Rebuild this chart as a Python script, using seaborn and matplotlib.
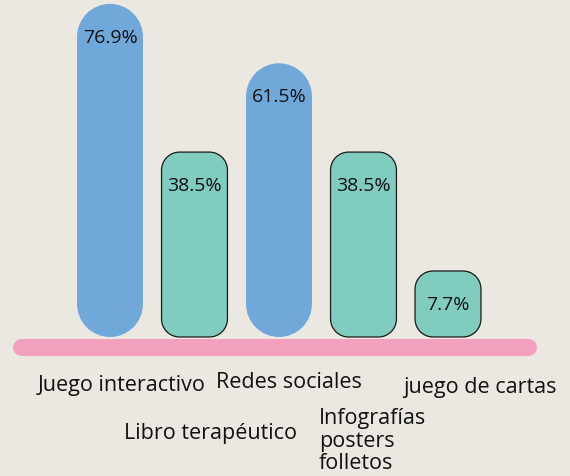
import matplotlib
matplotlib.use("Agg")
import matplotlib.pyplot as plt
import matplotlib.colors as mcolors
import seaborn as sns
import pandas as pd
from matplotlib.path import Path
from matplotlib.patches import PathPatch

# ---- data ----
categories = ["Juego interactivo", "Libro terapéutico", "Redes sociales",
              "Infografías\nposters\nfolletos", "juego de cartas"]
values = [76.9, 38.5, 61.5, 38.5, 7.7]
groups = ["azul", "verde", "azul", "verde", "verde"]

# ---- style / layout ----
BG = "#ebe8e1"
BLUE = "#70a8da"
TEAL = "#80ccbe"
PINK = "#f2a0be"
W, H = 570, 476
BASE = -9.4            # bars start slightly below zero (rounded foot)
PX_X = 84.5            # pixels per category step
PX_Y = 3.86            # pixels per percentage point
RADIUS_TEAL = 18       # px
LABEL_POS = [(122, 385, "center"), (211, 433, "center"), (289, 382, "center"),
             (319, 441, "left"), (480, 387, "center")]

sns.set_theme(style="white")
plt.rcParams["font.family"] = ["Open Sans", "DejaVu Sans"]

fig = plt.figure(figsize=(W / 100, H / 100), dpi=100, facecolor=BG)
ax = fig.add_axes([0, 0, 1, 1])
ax.set_facecolor(BG)

df = pd.DataFrame({"cat": categories, "val": values, "grp": groups})
sns.barplot(data=df, x="cat", y="val", hue="grp",
            palette={"azul": BLUE, "verde": TEAL}, dodge=False, saturation=1,
            width=0.78, legend=False, ax=ax)

ax.set_xlim(-110 / PX_X, (W - 110) / PX_X)
ax.set_ylim(-(H - 300.7) / PX_Y, 300.7 / PX_Y)
ax.axis("off")


def rounded_path(x0, y0, w, h, rx, ry):
    verts, codes = [], []
    corners = [(x0 + w - rx, y0 + ry, -90, 0), (x0 + w - rx, y0 + h - ry, 0, 90),
               (x0 + rx, y0 + h - ry, 90, 180), (x0 + rx, y0 + ry, 180, 270)]
    for i, (cx, cy, a0, a1) in enumerate(corners):
        arc = Path.arc(a0, a1)
        v = arc.vertices.copy()
        v[:, 0] = cx + v[:, 0] * rx
        v[:, 1] = cy + v[:, 1] * ry
        c = list(arc.codes)
        if i > 0:
            c[0] = Path.LINETO
        verts.extend(v.tolist())
        codes.extend(c)
    verts.append(verts[0])
    codes.append(Path.CLOSEPOLY)
    return Path(verts, codes)


# pink baseline
ax.plot([20.5 / W, 528 / W], [1 - 347 / H, 1 - 347 / H], transform=ax.transAxes,
        color=PINK, lw=12.2, solid_capstyle="round", zorder=1)

bars = [p for p in ax.patches if p.get_height() > 0]
for p in bars:
    x, w, h = p.get_x(), p.get_width(), p.get_height()
    fc = p.get_facecolor()
    p.set_visible(False)
    is_blue = mcolors.to_hex(fc) == BLUE
    if is_blue:
        rx = w / 2
    else:
        rx = RADIUS_TEAL / PX_X
    ry = rx * PX_X / PX_Y
    patch = PathPatch(rounded_path(x, BASE, w, h - BASE, rx, ry), facecolor=fc,
                      edgecolor="none" if is_blue else "#1a1a1a",
                      lw=0 if is_blue else 0.9, zorder=2)
    ax.add_patch(patch)

for cont in ax.containers:
    texts = ax.bar_label(cont, fmt="{:.1f}%", padding=-24.5, fontsize=14,
                         color="#111111", zorder=4)
    for t in texts:
        t.set_va("center")

for (px, py, ha), lab in zip(LABEL_POS, categories):
    fig.text(px / W, 1 - py / H, lab, ha=ha, va="center", fontsize=15.5,
             color="#111111", linespacing=1.12, multialignment="left")

fig.savefig("out.png", dpi=100, facecolor=BG)
